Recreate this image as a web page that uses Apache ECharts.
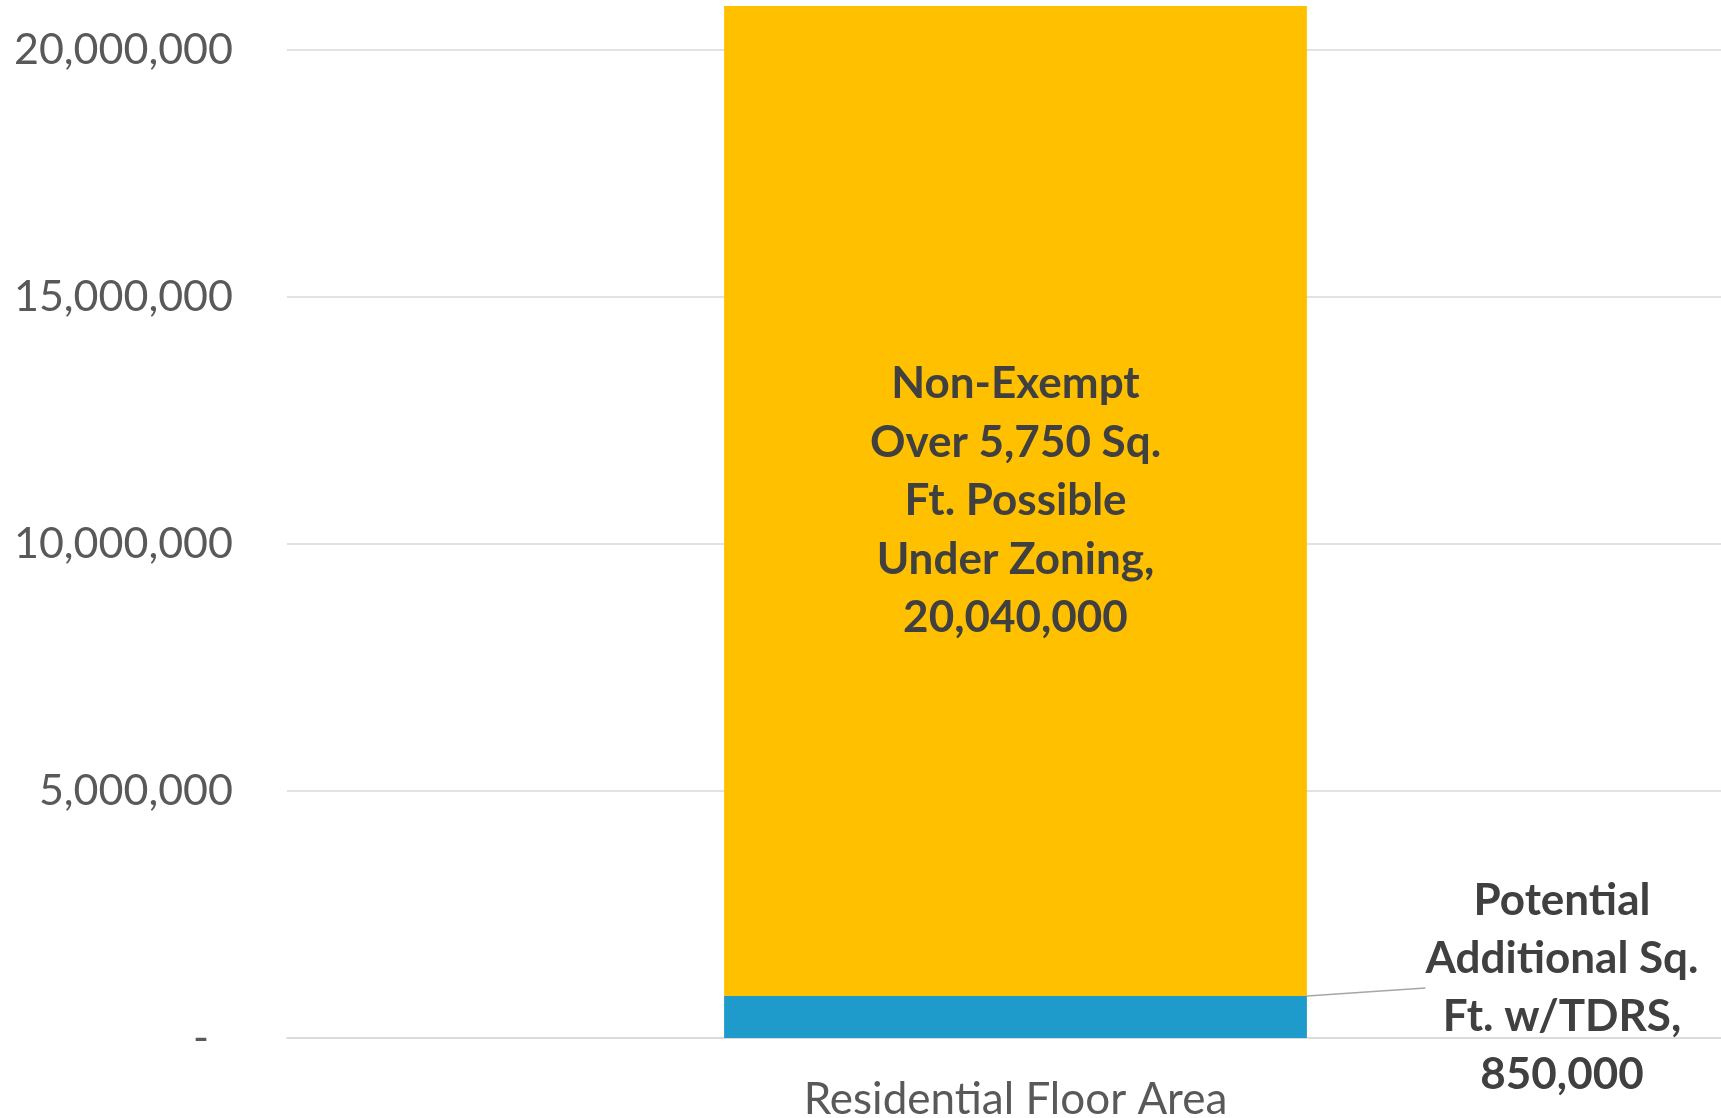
<!DOCTYPE html>
<html>
<head>
<meta charset="utf-8">
<script src="https://cdn.jsdelivr.net/npm/echarts@6/dist/echarts.min.js"></script>
<style>
html,body{margin:0;padding:0;background:#fff;}
#c{width:1721px;height:1118px;}
</style>
</head>
<body>
<div id="c"></div>
<script>
const categories = ['Residential Floor Area'];
const tdrsValues = [850000];
const nonExemptValues = [20040000];
const tdrsLabel = 'Potential\nAdditional Sq.\nFt. w/TDRS,';
const nonExemptLabel = 'Non-Exempt\nOver 5,750 Sq.\nFt. Possible\nUnder Zoning,';
const yTicks = [0, 5000000, 10000000, 15000000, 20000000];

const FONT = 'Lato';
const fmt = v => v.toLocaleString('en-US');

const chart = echarts.init(document.getElementById('c'));
chart.setOption({
  animation: false,
  backgroundColor: '#ffffff',
  textStyle: { fontFamily: FONT },
  grid: { left: 287, top: 50, width: 1457, height: 988, containLabel: false, outerBoundsMode: 'none' },
  xAxis: {
    type: 'category',
    data: categories,
    axisLine: { show: true, lineStyle: { color: '#d9d9d9', width: 1.5 } },
    axisTick: { show: false },
    axisLabel: { color: '#595959', fontSize: 44, fontFamily: FONT, margin: 40 }
  },
  yAxis: {
    type: 'value',
    min: yTicks[0],
    max: yTicks[yTicks.length - 1],
    interval: yTicks[1] - yTicks[0],
    axisLine: { show: false },
    axisTick: { show: false },
    splitLine: { lineStyle: { color: '#d9d9d9', width: 1.5 } },
    axisLabel: {
      color: '#595959', fontSize: 43, fontFamily: FONT, margin: 54,
      formatter: v => v === 0 ? '{z|-}' : fmt(v),
      rich: { z: { fontSize: 43, color: '#595959', padding: [0, 24, 0, 0] } }
    }
  },
  series: [
    {
      name: 'Potential Additional Sq. Ft. w/TDRS',
      type: 'bar',
      stack: 'a',
      clip: false,
      barWidth: '40%',
      data: tdrsValues,
      itemStyle: { color: '#1E9BCB' },
      label: {
        show: true,
        position: 'right',
        formatter: p => tdrsLabel + '\n' + fmt(p.value),
        fontSize: 44, fontWeight: 'bold', color: '#404040', fontFamily: FONT,
        lineHeight: 58, align: 'center'
      },
      labelLayout: { x: 1562, y: 988, align: 'center', verticalAlign: 'middle' },
      labelLine: { show: true, lineStyle: { color: '#a6a6a6', width: 1.5 } }
    },
    {
      name: 'Non-Exempt Over 5,750 Sq. Ft. Possible Under Zoning',
      type: 'bar',
      stack: 'a',
      clip: false,
      barWidth: '40%',
      data: nonExemptValues,
      itemStyle: { color: '#FFC000' },
      label: {
        show: true,
        position: 'inside',
        formatter: p => nonExemptLabel + '\n' + fmt(p.value),
        fontSize: 44, fontWeight: 'bold', color: '#404040', fontFamily: FONT,
        lineHeight: 58.5, align: 'center'
      }
    }
  ]
});
</script>
</body>
</html>
